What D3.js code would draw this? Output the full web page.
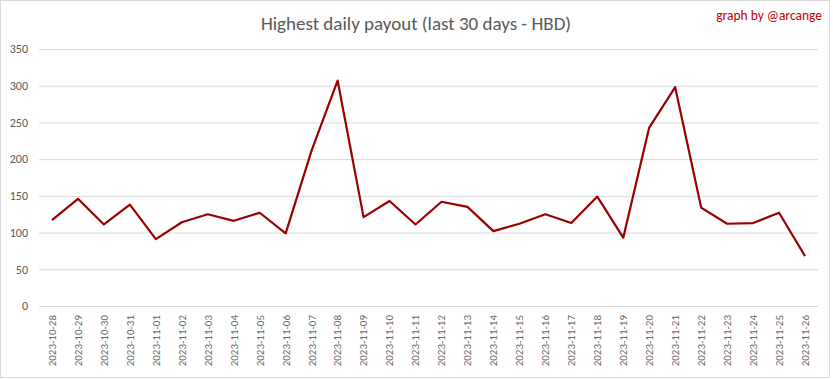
<!DOCTYPE html>
<html>
<head>
<meta charset="utf-8">
<script src="https://cdn.jsdelivr.net/npm/d3@7"></script>
<style>
  body { margin: 0; background: #fff; }
  svg text { font-family: Carlito, "Liberation Sans Narrow", "Open Sans", sans-serif; }
</style>
</head>
<body>
<svg id="chart"></svg>
<script>
const dates = [
  '2023-10-28', '2023-10-29', '2023-10-30', '2023-10-31', '2023-11-01', '2023-11-02',
  '2023-11-03', '2023-11-04', '2023-11-05', '2023-11-06', '2023-11-07', '2023-11-08',
  '2023-11-09', '2023-11-10', '2023-11-11', '2023-11-12', '2023-11-13', '2023-11-14',
  '2023-11-15', '2023-11-16', '2023-11-17', '2023-11-18', '2023-11-19', '2023-11-20',
  '2023-11-21', '2023-11-22', '2023-11-23', '2023-11-24', '2023-11-25', '2023-11-26'
];
const payout = [
  117, 146, 111, 138, 91, 114,
  125, 116, 127, 99, 212, 307,
  121, 143, 111, 142, 135, 102,
  112, 125, 113, 149, 93, 243,
  298, 134, 112, 113, 127, 68
];
const yTicks = [0, 50, 100, 150, 200, 250, 300, 350];

const width = 833, height = 379;
const margin = { top: 49, right: 15, bottom: 73, left: 39 };

const svg = d3.select('#chart')
  .attr('width', width)
  .attr('height', height);

// chart border
svg.append('rect')
  .attr('x', 0.5).attr('y', 0.5)
  .attr('width', 829).attr('height', 377)
  .attr('fill', '#fff')
  .attr('stroke', '#d9d9d9');

const x = d3.scaleBand()
  .domain(dates)
  .range([margin.left, width - margin.right]);

const y = d3.scaleLinear()
  .domain([0, 350])
  .range([height - margin.bottom, margin.top]);

// gridlines + y labels
const yAxis = svg.append('g')
  .attr('transform', `translate(${margin.left},0)`)
  .call(d3.axisLeft(y).tickValues(yTicks).tickSize(-(width - margin.left - margin.right)).tickPadding(11));
yAxis.select('.domain').remove();
yAxis.selectAll('line').attr('stroke', '#d9d9d9');
yAxis.selectAll('text').attr('fill', '#595959').style('font-size', '12px');

// x labels
const xAxis = svg.append('g')
  .attr('transform', `translate(0,${y(0)})`)
  .call(d3.axisBottom(x).tickSize(0));
xAxis.select('.domain').remove();
xAxis.selectAll('text')
  .attr('fill', '#666')
  .style('font-size', '11px')
  .attr('text-anchor', 'end')
  .attr('transform', 'rotate(-90)')
  .attr('x', -9)
  .attr('y', 0)
  .attr('dy', '0.35em');

// line
const line = d3.line()
  .x((d, i) => x(dates[i]) + x.bandwidth() / 2)
  .y(d => y(d));

svg.append('path')
  .datum(payout)
  .attr('d', line)
  .attr('fill', 'none')
  .attr('stroke', '#990000')
  .attr('stroke-width', 2.2)
  .attr('stroke-linejoin', 'round');

// title
svg.append('text')
  .attr('x', 416).attr('y', 30)
  .attr('text-anchor', 'middle')
  .attr('fill', '#595959')
  .style('font-size', '19px')
  .style('font-weight', 300)
  .text('Highest daily payout (last 30 days - HBD)');

svg.append('text')
  .attr('x', 822).attr('y', 20)
  .attr('text-anchor', 'end')
  .attr('fill', '#c00000')
  .style('font-size', '13.5px')
  .text('graph by @arcange');
</script>
</body>
</html>
